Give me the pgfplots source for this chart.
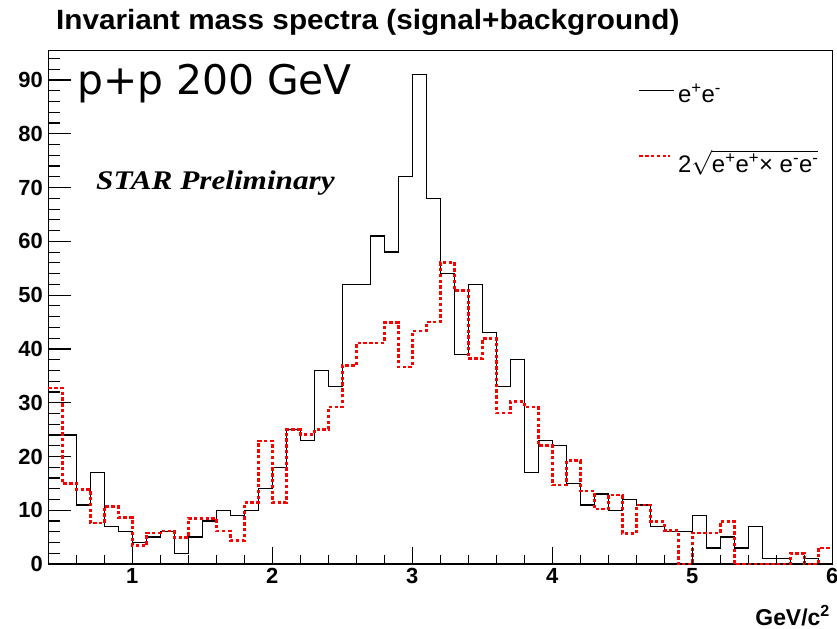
\documentclass[border=0pt]{standalone}
\usepackage{fontspec}
\setmainfont{Liberation Sans}
\newfontfamily\dejavu{DejaVu Sans}
\newfontfamily\libserif{Liberation Serif}
\usepackage{pgfplots}
\pgfplotsset{compat=1.18}
\usepackage{pgfplotstable}
\pgfplotsset{
  blackleg/.style={legend image code/.code={\draw[##1] (0bp,0.3em) -- (35bp,0.3em);}},
  redleg/.style={legend image code/.code={\draw[##1] (0bp,0.3em+3bp) -- (31bp,0.3em+3bp);}},
}

% bin left edge, e+e- counts, 2*sqrt(e+e+ x e-e-)
\pgfplotstableread{
x ee like
0.4 24 32.7
0.5 24 15.0
0.6 11 13.9
0.7 17 7.6
0.8 7 10.7
0.9 6 8.6
1.0 4 3.4
1.1 5 5.8
1.2 6 6.1
1.3 2 4.9
1.4 5 8.5
1.5 8 8.5
1.6 10 6.1
1.7 9 4.4
1.8 10 11.4
1.9 14 22.9
2.0 18 11.4
2.1 25 25.0
2.2 23 24.1
2.3 36 25.0
2.4 33 29.2
2.5 52 36.9
2.6 52 41.1
2.7 61 41.1
2.8 58 44.9
2.9 72 36.6
3.0 91 43.3
3.1 68 45.0
3.2 54 56.1
3.3 39 50.9
3.4 52 38.2
3.5 43 41.9
3.6 33 28.1
3.7 38 30.2
3.8 17 29.2
3.9 23 22.0
4.0 22 14.7
4.1 15 19.2
4.2 11 13.6
4.3 13 10.2
4.4 10 12.8
4.5 12 5.7
4.6 11 11.0
4.7 7 7.9
4.8 6 6.2
4.9 6 0
5.0 9 5.8
5.1 3 5.8
5.2 5 7.9
5.3 3 0
5.4 7 0
5.5 1 0
5.6 1 0
5.7 0 2.0
5.8 1 0
5.9 0 3.0
6.0 0 3.0
}\histdata

\begin{document}
\begin{tikzpicture}
\begin{axis}[
  at={(48.3bp,65bp)}, anchor=south west,
  scale only axis, width=784bp, height=513.5bp,
  xmin=0.4, xmax=6, ymin=0, ymax=95.5,
  axis line style={black, line width=1.4bp},
  tick pos=left, tick align=inside,
  xtick=\empty, minor xtick={},
  ytick={0,10,...,90}, minor ytick={0,2,...,94},
  major tick length=23bp, minor tick length=12bp,
  every tick/.style={black, line width=1.2bp},
  yticklabel style={font=\bfseries\fontsize{22}{22}\selectfont, xshift=-2bp},
  /pgf/number format/assume math mode=true,
  clip=false,
  legend cell align=left,
  legend style={at={(axis description cs:0.752,0.94)}, anchor=north west,
    draw=none, fill=none, inner sep=0pt, row sep=42bp,
    font=\fontsize{24}{24}\selectfont,
    nodes={inner xsep=3bp}},
]
\addplot[const plot mark left, black, line width=1.3bp, blackleg] table[x=x, y=ee] {\histdata};
\addlegendentry{e\textsuperscript{+}e\textsuperscript{-}}
\addplot[const plot mark left, red, line width=2.6bp, dash pattern=on 3.4bp off 2.4bp, redleg] table[x=x, y=like] {\histdata};
\addlegendentry{2\(\sqrt{\mbox{e\textsuperscript{+}e\textsuperscript{+}× e\textsuperscript{-}e\textsuperscript{-}}}\)}
\end{axis}
\begin{axis}[
  at={(48.3bp,65bp)}, anchor=south west,
  scale only axis, width=784bp, height=513.5bp,
  xmin=0.4, xmax=6, ymin=0, ymax=95.5,
  axis line style={draw=none},
  tick pos=left, tick align=inside,
  ytick=\empty, minor ytick={},
  xtick={1,2,3,4,5,6},
  minor xtick={0.6,0.8,1.2,1.4,1.6,1.8,2.2,2.4,2.6,2.8,3.2,3.4,3.6,3.8,4.2,4.4,4.6,4.8,5.2,5.4,5.6,5.8},
  major tick length=17bp, minor tick length=9bp,
  every tick/.style={black, line width=1.2bp},
  xticklabel style={font=\bfseries\fontsize{22}{22}\selectfont, yshift=-1bp},
  /pgf/number format/assume math mode=true,
]
\end{axis}
\node[anchor=base west, inner sep=0pt, font=\bfseries\fontsize{28}{28}\selectfont, xscale=1.065] at (56bp,599.7bp) {Invariant mass spectra (signal+background)};
\node[anchor=base west, inner sep=0pt, font=\dejavu\fontsize{41}{41}\selectfont] at (77bp,534bp) {p+p 200 GeV};
\node[anchor=base west, inner sep=0pt, font=\libserif\bfseries\itshape\fontsize{27}{27}\selectfont, xscale=1.16] at (96bp,439bp) {STAR Preliminary};
\node[anchor=base east, inner sep=0pt, font=\bfseries\fontsize{23}{23}\selectfont] at (830bp,4bp) {GeV/c\textsuperscript{2}};
\pgfresetboundingbox
\path (0bp,0bp) rectangle (837bp,629bp);
\end{tikzpicture}
\end{document}
